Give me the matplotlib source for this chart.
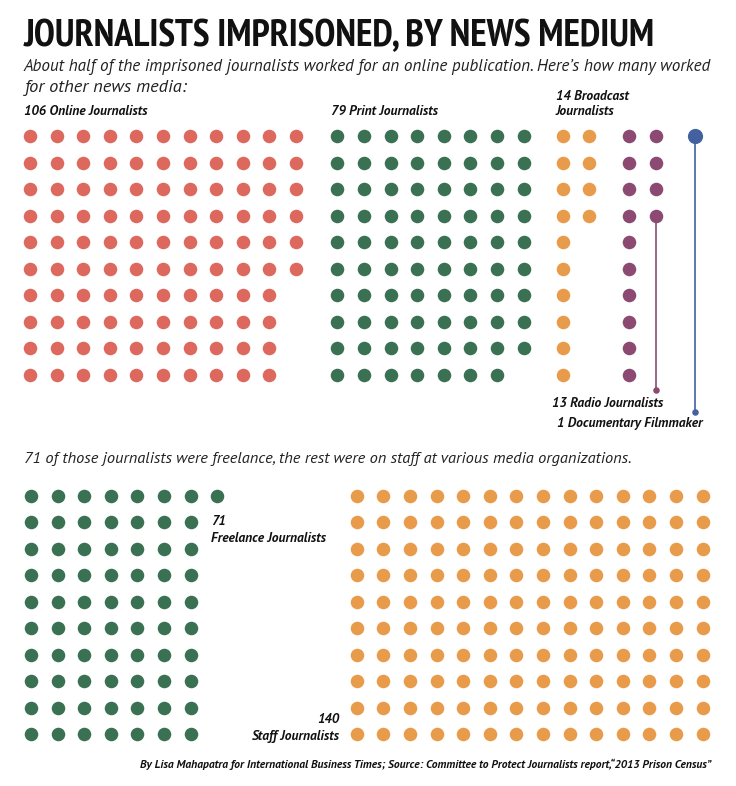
import matplotlib
matplotlib.use("Agg")
import matplotlib.pyplot as plt
from matplotlib import font_manager

# ---------------- data ----------------
medium_labels = ["Online", "Print", "Broadcast", "Radio", "Documentary"]
medium_counts = [106, 79, 14, 13, 1]
employment_labels = ["Freelance", "Staff"]
employment_counts = [71, 140]

title = "JOURNALISTS IMPRISONED, BY NEWS MEDIUM"
subtitle1 = "About half of the imprisoned journalists worked for an online publication. Here\u2019s how many worked"
subtitle2 = "for other news media:"
subtitle3 = "71 of those journalists were freelance, the rest were on staff at various media organizations."
footer = "By Lisa Mahapatra for International Business Times; Source: Committee to Protect Journalists report,\u201c2013 Prison Census\u201d"

# ---------------- style ----------------
C_ONLINE = "#DD685D"
C_PRINT = "#3A7153"
C_ORANGE = "#E79B4B"
C_RADIO = "#8C4A72"
C_DOC = "#43609F"

names = {f.name for f in font_manager.fontManager.ttflist}


def pick(*cands):
    for c in cands:
        if c in names:
            return c
    return "DejaVu Sans"


title_font = pick("PT Sans Narrow", "Liberation Sans Narrow", "Roboto Condensed", "Open Sans Condensed", "Lato")
body_font = pick("PT Sans", "Lato", "Open Sans")

W, H = 736, 786
fig = plt.figure(figsize=(W / 100, H / 100), dpi=100)
ax = fig.add_axes([0, 0, 1, 1])
ax.set_xlim(0, W)
ax.set_ylim(H, 0)
ax.axis("off")

DX, DY = 26.6, 26.5
ROWS = 10
S = 95  # marker area


def grid(ax, n, x0, y0, color, s=S):
    xs, ys = [], []
    for i in range(n):
        c, r = divmod(i, ROWS)
        xs.append(x0 + c * DX)
        ys.append(y0 + r * DY)
    ax.scatter(xs, ys, s=s, color=color, linewidths=0, zorder=3)
    return xs, ys


Y_TOP = 136.0
grid(ax, medium_counts[0], 30.0, Y_TOP, C_ONLINE)
grid(ax, medium_counts[1], 337.3, Y_TOP, C_PRINT)
grid(ax, medium_counts[2], 562.7, Y_TOP, C_ORANGE)
grid(ax, medium_counts[3], 629.3, Y_TOP, C_RADIO)

# radio leader (anchor at next grid slot)
c, r = divmod(medium_counts[3], ROWS)
rx, ry = 629.3 + c * DX, Y_TOP + r * DY
ax.scatter([rx], [ry], s=S, color=C_RADIO, linewidths=0, zorder=3)
ax.plot([rx, rx], [ry, 390], color=C_RADIO, lw=1.2, zorder=2)
ax.scatter([rx], [390], s=22, color=C_RADIO, linewidths=0, zorder=3)

# documentary dot + leader
dx_, dy_ = 695.3, Y_TOP
ax.scatter([dx_], [dy_], s=120, color=C_DOC, linewidths=0, zorder=3)
ax.plot([dx_, dx_], [dy_, 411.5], color=C_DOC, lw=1.2, zorder=2)
ax.scatter([dx_], [411.5], s=22, color=C_DOC, linewidths=0, zorder=3)

Y_BOT = 495.6
grid(ax, employment_counts[0], 31.0, Y_BOT, C_PRINT)
grid(ax, employment_counts[1], 356.7, Y_BOT, C_ORANGE)

# ---------------- text ----------------
t = ax.text(24, 46, title, fontsize=27, fontweight="bold", family=title_font,
            color="#111111", va="baseline", ha="left")
body = dict(family=body_font, style="italic", color="#222222", fontsize=13.2)
s1 = ax.text(24, 71, subtitle1, va="baseline", ha="left", **body)
ax.text(24, 92, subtitle2, va="baseline", ha="left", **body)
s3 = ax.text(24, 463, subtitle3, va="baseline", ha="left", **body)

lab = dict(family=body_font, style="italic", fontweight="bold", color="#111111", fontsize=9.7)
ax.text(24, 115, f"{medium_counts[0]} {medium_labels[0]} Journalists", va="baseline", **lab)
ax.text(331, 115, f"{medium_counts[1]} {medium_labels[1]} Journalists", va="baseline", **lab)
ax.text(556, 100, f"{medium_counts[2]} {medium_labels[2]}", va="baseline", **lab)
ax.text(556, 115, "Journalists", va="baseline", **lab)
ax.text(552, 407, f"{medium_counts[3]} {medium_labels[3]} Journalists", va="baseline", **lab)
ax.text(557, 427, f"{medium_counts[4]} {medium_labels[4]} Filmmaker", va="baseline", **lab)

ax.text(211, 525, f"{employment_counts[0]}", va="baseline", ha="left", **lab)
ax.text(211, 542, f"{employment_labels[0]} Journalists", va="baseline", ha="left", **lab)
ax.text(339, 723, f"{employment_counts[1]}", va="baseline", ha="right", **lab)
ax.text(339, 740, f"{employment_labels[1]} Journalists", va="baseline", ha="right", **lab)

ft = ax.text(711, 768, footer, va="baseline", ha="right", family=body_font, style="italic",
             fontweight="bold", color="#111111", fontsize=8.0)

# fit widths to the reference extents
fig.canvas.draw()
r = fig.canvas.get_renderer()
for obj, target in ((t, 631), (s1, 688), (s3, 609), (ft, 571)):
    w = obj.get_window_extent(r).width
    if w > 0:
        obj.set_fontsize(obj.get_fontsize() * target / w)

fig.savefig("out.png", dpi=100, facecolor="white")
